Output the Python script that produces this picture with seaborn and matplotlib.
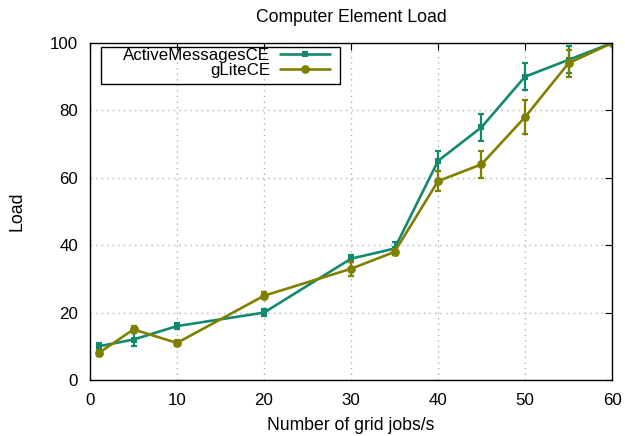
import matplotlib
matplotlib.use("Agg")
import matplotlib.pyplot as plt
from matplotlib.patches import Rectangle
import seaborn as sns
import pandas as pd

# Grid job rates and measured load
jobs = [1, 5, 10, 20, 30, 35, 40, 45, 50, 55, 60]
active_load = [10, 12, 16, 20, 36, 39, 65, 75, 90, 95, 100]
active_err = [1, 2, 1, 1, 1, 2, 3, 4, 4, 4, 0]
glite_load = [8, 15, 11, 25, 33, 38, 59, 64, 78, 94, 100]
glite_err = [1, 1, 1, 1, 2, 1, 3, 4, 5, 4, 0]

teal = "#138a6f"
olive = "#808000"
fs = 12.7

sns.set_style("white")
plt.rcParams["font.family"] = ["Liberation Sans", "DejaVu Sans"]
plt.rcParams["text.color"] = "black"
plt.rcParams["axes.labelcolor"] = "black"

fig = plt.figure(figsize=(6.25, 4.36), dpi=100)
ax = fig.add_axes([90 / 625, 56 / 436, 522 / 625, 337 / 436])

df = pd.DataFrame({"jobs": jobs, "active": active_load, "glite": glite_load})

sns.lineplot(data=df, x="jobs", y="active", ax=ax, color=teal, lw=1.9,
             marker="s", markersize=4.8, markeredgewidth=0, label="ActiveMessagesCE")
ax.errorbar(jobs, active_load, yerr=active_err, fmt="none", ecolor=teal,
            elinewidth=1.6, capsize=2.4, capthick=1.6)

sns.lineplot(data=df, x="jobs", y="glite", ax=ax, color=olive, lw=1.9,
             marker="o", markersize=6.3, markeredgewidth=0, label="gLiteCE")
ax.errorbar(jobs, glite_load, yerr=glite_err, fmt="none", ecolor=olive,
            elinewidth=1.6, capsize=2.4, capthick=1.6)

ax.set_xlim(0, 60)
ax.set_ylim(0, 100)
ax.set_xticks(range(0, 61, 10))
ax.set_yticks(range(0, 101, 20))
ax.grid(True, color="#b0b0b0", linestyle=(0, (1, 3)), linewidth=1)
ax.tick_params(direction="in", top=True, right=True, length=5, labelsize=fs - 0.5,
               colors="black")
ax.tick_params(axis="x", pad=9)
ax.tick_params(axis="y", pad=8.5)
for s in ax.spines.values():
    s.set_color("black")
    s.set_linewidth(1)

ax.set_title("Computer Element Load", fontsize=fs, pad=15)
ax.set_xlabel("Number of grid jobs/s", fontsize=fs, labelpad=7)
ax.set_ylabel("Load", fontsize=fs, labelpad=18)

leg = ax.legend(loc="upper left", bbox_to_anchor=(0.063, 0.984), fontsize=12.2,
                markerfirst=False, frameon=False,
                borderpad=0, labelspacing=0.0, handlelength=2.95,
                handletextpad=0.6, borderaxespad=0)
for t in leg.get_texts():
    t.set_ha("right")
    t.set_color("black")
leg._legend_box.align = "right"

# legend frame (gnuplot style box)
ax.add_patch(Rectangle((0.0211, 0.878), 0.458, 0.11, transform=ax.transAxes,
                       fill=False, edgecolor="black", linewidth=1, zorder=5))

fig.savefig("out.png", dpi=100)
